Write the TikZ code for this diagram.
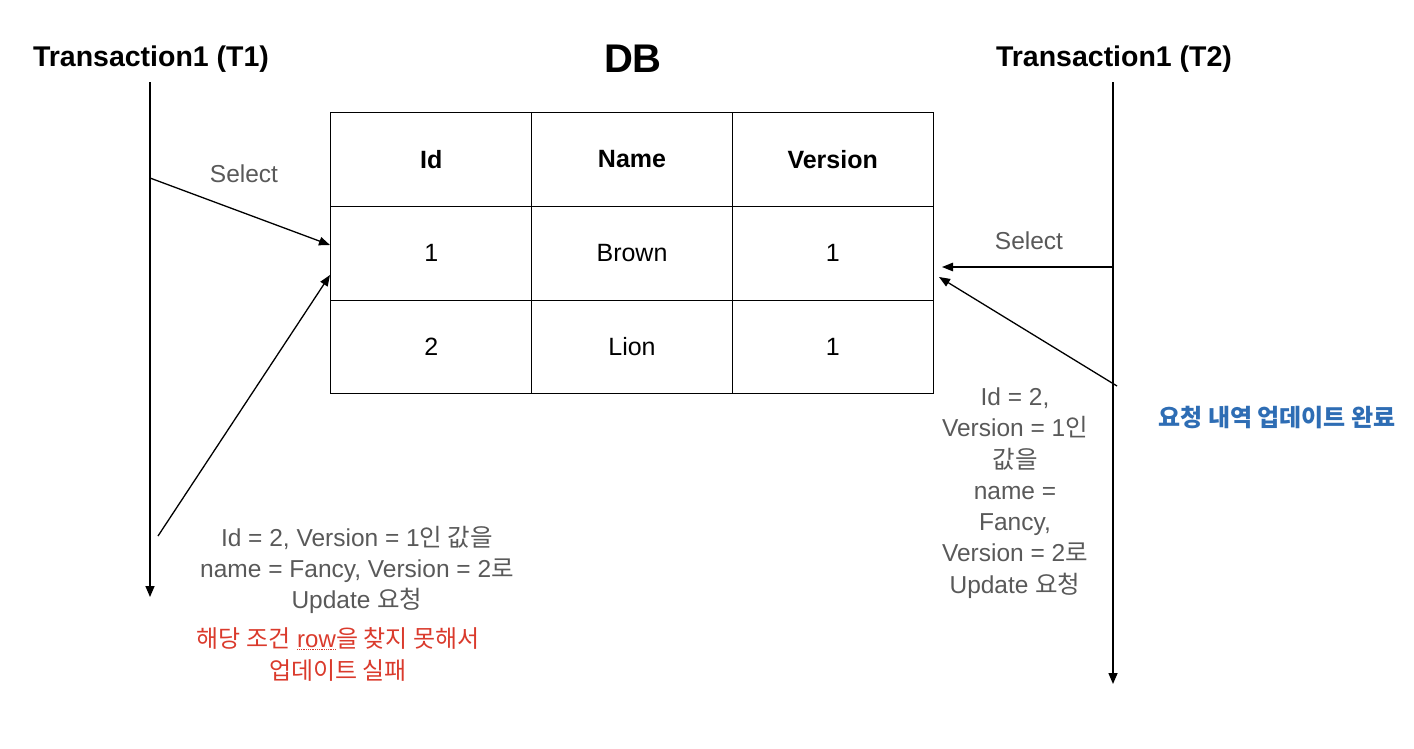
\documentclass[tikz,border=0pt]{standalone}
\usepackage{fontspec}
\setmainfont{Liberation Sans}
\newfontfamily\krfont{Noto Sans CJK KR}
\usetikzlibrary{arrows.meta}
\newcommand\K[1]{{\krfont #1}}
\newcommand\dotul[1]{\tikz[baseline=(dw.base)]{\node[inner sep=0pt,outer sep=0pt](dw){#1};\draw[densely dotted,line width=0.8pt] ([yshift=-2pt]dw.south west) -- ([yshift=-2pt]dw.south east);}}
\definecolor{txtgray}{HTML}{595959}
\definecolor{failred}{HTML}{DA3A2C}
\definecolor{okblue}{HTML}{2E6DB4}
\begin{document}
\begin{tikzpicture}[x=1pt,y=-1pt,
  lifeline/.style={line width=1.5pt,-{Triangle[length=11pt,width=9pt]}},
  msg/.style={line width=1.3pt,-{Triangle[length=11pt,width=8.5pt]}},
  cell/.style={draw,line width=1pt,minimum width=200.67pt,minimum height=93.67pt,inner sep=0pt,font=\fontsize{25}{30}\selectfont},
  head/.style={cell,font=\bfseries\fontsize{25}{30}\selectfont},
  title/.style={font=\bfseries\fontsize{28.5}{34}\selectfont},
  lbl/.style={text=txtgray,font=\fontsize{24.5}{31.3}\selectfont,align=center,inner sep=0pt},
  note/.style={font=\fontsize{24}{32}\selectfont,align=center,inner sep=0pt}]
\useasboundingbox (0,0) rectangle (1414,748);

% titles
\node[title] (t1title) at (151,59) {Transaction1 (T1)};
\node[title,font=\bfseries\fontsize{40}{46}\selectfont] (dbtitle) at (633,59) {DB};
\node[title] (t2title) at (1114,59) {Transaction1 (T2)};

% lifelines
\coordinate (t1top) at (150,82);
\coordinate (t1bot) at (150,597);
\coordinate (t2top) at (1113,82);
\coordinate (t2bot) at (1113,684);
\draw[lifeline] (t1top) -- (t1bot);
\draw[lifeline] (t2top) -- (t2bot);

% table
\node[head] (h1) at (431.3,159.5) {Id};
\node[head] (h2) at (632,159.5) {Name};
\node[head] (h3) at (832.7,159.5) {Version};
\node[cell] (a1) at (431.3,253.2) {1};
\node[cell] (a2) at (632,253.2) {Brown};
\node[cell] (a3) at (832.7,253.2) {1};
\node[cell] (b1) at (431.3,346.9) {2};
\node[cell] (b2) at (632,346.9) {Lion};
\node[cell] (b3) at (832.7,346.9) {1};

% messages
\coordinate (s1a) at (150,178);
\coordinate (s1b) at (330,245);
\draw[msg] (s1a) -- (s1b);
\node[lbl] (sel1) at (244,174) {Select};

\coordinate (u1a) at (158,536);
\coordinate (u1b) at (330,275);
\draw[msg] (u1a) -- (u1b);

\coordinate (s2a) at (1113,267);
\coordinate (s2b) at (942,267);
\draw[msg] (s2a) -- (s2b);
\node[lbl] (sel2) at (1029,241) {Select};

\coordinate (u2a) at (1117,386);
\coordinate (u2b) at (939,277);
\draw[msg] (u2a) -- (u2b);

% texts
\node[lbl] (upd1) at (357,570) {Id = 2, Version = 1\K{인 값을}\\name = Fancy, Version = 2\K{로}\\Update \K{요청}};
\node[note,text=failred] (fail) at (338,654) {\K{해당 조건} \dotul{row}\K{을 찾지 못해서}\\\K{업데이트 실패}};
\node[lbl] (upd2) at (1015,493) {Id = 2,\\Version = 1\K{인}\\\K{값을}\\name =\\Fancy,\\Version = 2\K{로}\\Update \K{요청}};
\node[note,text=okblue,font=\bfseries\fontsize{24}{32}\selectfont] (done) at (1277,418) {\K{요청 내역 업데이트 완료}};
\end{tikzpicture}
\end{document}
